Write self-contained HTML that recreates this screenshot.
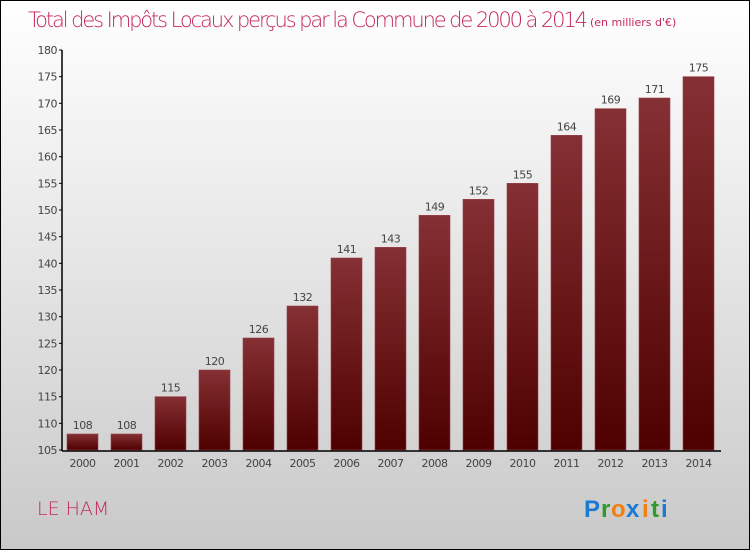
<!DOCTYPE html>
<html><head><meta charset="utf-8"><style>
body{margin:0}
#c{position:relative;width:748px;height:548px;border:1px solid #000;background:linear-gradient(#fff,#c9c9c9);font-family:"DejaVu Sans","Liberation Sans",sans-serif;overflow:hidden}
</style></head><body>
<div id="c">
<svg width="748" height="548" style="position:absolute;left:0;top:0" id="svg">
<defs><linearGradient id="bg" x1="0" y1="0" x2="0" y2="1"><stop offset="0" stop-color="#853034"/><stop offset="1" stop-color="#4e0000"/></linearGradient></defs>
<text x="27" y="26" font-size="21" fill="#c4285c" font-family="DejaVu Sans" font-weight="200" textLength="560">Total des Impôts Locaux perçus par la Commune de 2000 à 2014</text>
<text x="589" y="25" font-size="11" fill="#c4285c">(en milliers d'€)</text>
<text x="36" y="514" font-size="19" fill="#c4285c" font-weight="200">LE HAM</text>
<g font-size="24" font-weight="bold" font-family="Liberation Sans">
<text x="583" y="516" fill="#1a7ad4">P</text><text x="600" y="516" fill="#2a9a2a">r</text><text x="610" y="516" fill="#f08010">o</text><text x="625" y="516" fill="#1a7ad4">x</text><text x="641" y="516" fill="#f08010">i</text><text x="650" y="516" fill="#2a9a2a">t</text><text x="660" y="516" fill="#1a7ad4">i</text></g>
<g id="plot"></g>
</svg>
</div>
<script>
const years=["2000","2001","2002","2003","2004","2005","2006","2007","2008","2009","2010","2011","2012","2013","2014"];
const values=[108,108,115,120,126,132,141,143,149,152,155,164,169,171,175];
const ticks=[105,110,115,120,125,130,135,140,145,150,155,160,165,170,175,180];
const ns="http://www.w3.org/2000/svg";
const g=document.getElementById('plot');
const y=v=>449-(v-105)*(400/75);
const x=i=>66+i*44;
function mk(t,a){const e=document.createElementNS(ns,t);for(const k in a)e.setAttribute(k,a[k]);g.appendChild(e);return e;}
ticks.forEach(t=>{
 const l=mk('line',{x1:58,x2:61,y1:y(t),y2:y(t),stroke:'#000'});
 
 
 const tx=mk('text',{x:56,y:y(t)+4,'font-size':11,fill:'#444','text-anchor':'end','letter-spacing':'-0.5'});tx.textContent=t;
 
 
});
values.forEach((v,i)=>{
 const r=mk('rect',{x:x(i),y:y(v),width:31,height:y(105)-y(v),fill:'url(#bg)',stroke:'#9a4048','stroke-width':0.6});
 
 
 const t=mk('text',{x:x(i)+15.5,y:y(v)-5,'font-size':11,fill:'#444','text-anchor':'middle','letter-spacing':'-0.5'});t.textContent=v;
 
 
 const yl=mk('text',{x:x(i)+15.5,y:466,'font-size':11,fill:'#444','text-anchor':'middle','letter-spacing':'-0.5'});yl.textContent=years[i];
 
 
});
const ya=mk('line',{x1:61,x2:61,y1:49,y2:450,stroke:'#000','stroke-width':1.5});


const xa=mk('line',{x1:61,x2:720,y1:450,y2:450,stroke:'#000','stroke-width':1.5});


</script>
</body></html>
